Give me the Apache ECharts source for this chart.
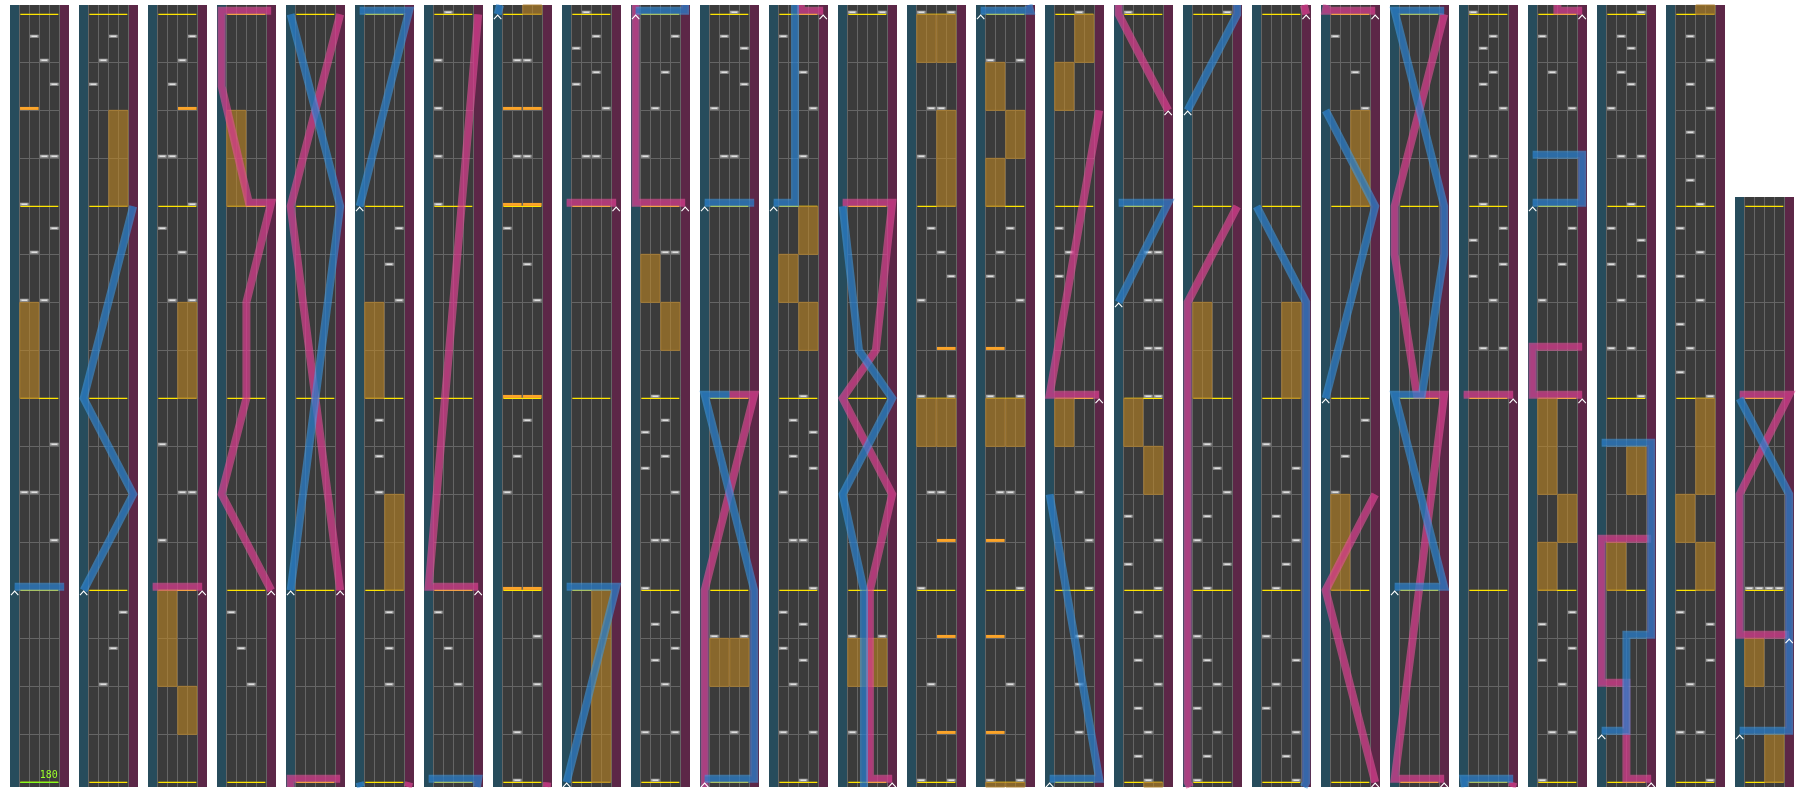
<!DOCTYPE html>
<html><head><meta charset="utf-8">
<script src="https://cdn.jsdelivr.net/npm/echarts@6/dist/echarts.min.js"></script>
<style>html,body{margin:0;padding:0;background:#ffffff;}#c{width:1804px;height:792px;}</style>
</head><body><div id="c"></div>
<script>
// ---------------- DATA (global beats, lanes 0..3, fx pair 0 = lanes 0-1, 1 = lanes 2-3) ----------------
const BEATS_PER_COLUMN = 16;
const TOTAL_BEATS = 412;
const bpmMarks = [[0, '180']];

const btChips = [
  [5,3],[6,0],[6,1],[7,3],[10,0],[10,2],[11,1],[11.5,3],[12,0],[13,2],[13,3],[14.5,3],[15,2],[15.5,1],
  [18,1],[18.75,2],[19.5,3],[30.5,0],[31,1],[31.5,2],
  [37,0],[38,2],[38,3],[39,0],[42,1],[42,3],[43,2],[43.5,0],[44,3],[45,0],[45,1],[46.5,1],[47,2],[47.5,3],
  [50,2],[50.75,1],[51.5,0],
  [82,2],[82.75,2],[83.5,2],[86,1],[86.75,1],[87.5,1],[90,3],[90.75,2],[91.5,3],
  [98,2],[98.75,1],[99.5,0],[108,0],[109,0],[110,0],[111,0],[112,1],
  [113,1],[114,3],[115,3],[118,0],[118.75,1],[119.5,2],[122,3],[122.75,2],[123.5,0],[125,1],[125,2],[127,1],[127,2],
  [141,1],[141,2],[142,3],[142.5,0],[142.75,2],[143.25,0],[143.5,2],[144,1],
  [145,0],[145,3],[146,2],[146.5,1],[146.75,3],[147.25,1],[147.5,3],[148,0],[149,1],[149,2],[150,3],[150.5,0],[150.75,2],[151.25,0],[151.5,2],[152,1],[155,2],[155,3],[157,0],[158,1],[158.75,2],[159.5,3],
  [161,2],[163,0],[163,3],[173,1],[173,2],[174,0],[174.5,3],[174.75,1],[175.25,3],[175.5,1],[176,2],
  [177,0],[177,3],[178,1],[178.5,2],[178.75,0],[179.25,2],[179.5,0],[180,3],[181,1],[181,2],[182,0],[182.5,3],[182.75,1],[183.25,3],[183.5,1],[184,2],[189,2],[190,3],[190.75,2],[191.5,0],
  [193,0],[195,0],[195,3],[208,0],[208,3],
  [210,1],[212,0],[214,1],[214,2],[216,0],[216,3],[218,0],[218.5,3],[219,2],[219.5,1],[221,0],[222,1],[222,2],[224,0],[224,3],
  [226,2],[228,3],[230,1],[230,2],[232,0],[232,3],[234,3],[234.5,0],[235,1],[235.5,2],[239,0],[239,3],
  [241,2],[242,2],[243,2],[244,3],[245,3],[246,2],[250.5,0],[251,1],[251.5,0],[256,2],
  [256.5,1],[257,2],[257.5,1],[258,3],[258.5,1],[259,3],[259.5,1],[260,3],[260.5,0],[261,3],[261.5,0],[264,2],[264,3],[265,2],[265,3],[266,2],[266,3],[267,2],[267,3],[272,0],
  [272.5,1],[273,2],[273.5,0],[274,2],[274.5,1],[275,0],[276,1],[276.5,3],[277,0],[277.5,1],[278,3],[278.5,2],[279,1],[288,3],
  [288.5,2],[289,3],[289.5,0],[290,1],[290.5,3],[291,0],[292,1],[292.5,2],[293,3],[293.5,1],[294,2],[294.5,3],[295,0],
  [310,0],[310.75,1],[311.5,3],[318,3],[318.75,2],[319.5,0],
  [345,1],[345,3],[346,2],[346.5,0],[346.75,3],[347.25,0],[347.5,3],[348,1],[349,0],[349,2],[350,3],[350.5,1],[350.75,2],[351.25,1],[351.5,2],[352,0],
  [353,1],[353,3],[354,2],[354.5,0],[354.75,3],[355.25,0],[355.5,3],[362,0],[362.75,2],[363.5,3],[366,3],[366.75,1],[367.5,0],
  [376,3],[377,0],[377,2],[378,1],[378.5,3],[378.75,0],[379.25,3],[379.5,0],[380,2],[381,1],[381,3],[382,0],[382.5,2],[382.75,1],[383.25,2],[383.5,1],[384,3],
  [385,0],[385,2],[386,1],[386.5,3],[386.75,0],[387.25,3],[387.5,0],[392,3],[392.5,0],[393,1],[393.5,0],[394,2],[394.5,0],[395,2],[395.5,0],[396,2],[396.5,1],[397,2],[397.5,1],[398,3],[398.5,1],[399,3],[399.5,1],
  [404,0],[404,1],[404,2],[404,3]
];

const fxChips = [
  [14,0],[46,1],
  [116,0],[116,1],[120,0],[120,1],[124,0],[124,1],[126,0],[126,1],
  [209,1],[211,1],[213,1],[217,1],
  [225,0],[227,0],[229,0],[233,0]
];

const fxHolds = [
  [8,10,0],[28,30,1],[33,34,1],[34,36,0],[40,42,1],[60,62,0],
  [84,86,1],[88,90,0],[128,132,1],[153,154,1],[154,155,0],
  [162,163,0],[162,163,1],[185,186,1],[186,187,0],[187,188,1],[194,195,0],[194,195,1],
  [215,216,0],[215,216,1],[220,222,1],[223,224,0],[223,224,1],
  [231,232,0],[231,232,1],[236,237,0],[237,238,1],[238,239,0],
  [247,248,0],[254,255,0],[255,256,1],[262,263,1],[263,264,0],[280,282,0],[296,298,1],
  [308,310,0],[316,318,1],[356,357,0],[357,358,1],[358,360,0],[372,373,0],[374,375,1],
  [388,389,1],[389,390,0],[390,392,1],[400,401,1],[402,403,0]
];

// lasers: [beat, position 0 (left) .. 1 (right)]; two points on the same beat = slam
const blueLasers = [
  [[4,0],[4,1]],
  [[20,0],[22,1],[24,0],[28,1]],
  [[68,0],[76,1],[80,0]],
  [[92,0],[96,1],[96,0]],
  [[128,0],[132,1],[132,0]],
  [[160,0],[160,1],[164,1],[168,0],[168,0.5]],
  [[172,0],[172,1]],
  [[188,0],[188,0.43],[196,0.43],[198,0],[200,1],[201,0.33],[204,0]],
  [[240,0],[240,1],[246,0]],
  [[266,0],[268,1],[268,0]],
  [[286,0],[288,1],[298,1],[300,0]],
  [[312,0],[316,1],[318,0]],
  [[324,0],[324,1],[328,0],[328,0.55],[331,1],[332,1],[336,0],[336,1]],
  [[364,0],[364,1],[365,1],[365,0]],
  [[369,0],[369,0.5],[371,0.5],[371,1],[375,1],[375,0]],
  [[401,0],[401,1],[406,1],[408,0]]
];
const pinkLasers = [
  [[36,1],[36,0]],
  [[52,1],[54,0],[56,0.5],[58,0.5],[60,1],[60,0.55],[62.5,0],[64,0],[64,1]],
  [[68,1],[76,0],[80,1]],
  [[100,1],[100,0],[112,1]],
  [[140,1],[140,0]],
  [[156,1],[156,0],[164,0],[168,1],[168,0.5]],
  [[192,1],[192,0.55],[196,0.55],[198,1],[200,0],[201,0.67],[204,1],[204,0]],
  [[248,1],[248,0],[254,1]],
  [[270,1],[272,0],[282,0],[284,1]],
  [[304,1],[308,0],[310,1]],
  [[320,1],[320,0],[328,1],[328,0.45],[331,0],[332,0],[336,1]],
  [[344,1],[344,0]],
  [[360,1],[360,0],[361,0],[361,1]],
  [[368,1],[368,0.5],[370,0.5],[370,0],[373,0],[373,1]],
  [[403,1],[403,0],[406,0],[408,1],[408,0]]
];

// ---------------- LAYOUT (x unit = one lane width) ----------------
const PITCH = 6.9, STRIP_L = 0.933, STRIP_R = 0.967, LANES = 4;
const COL_W = STRIP_L + LANES + STRIP_R;
const POS0 = 0.465, POS1 = 5.417;
const PAD_BOTTOM = 0.097, PAD_TOP = 0.194;

const columns = [];
for (let c = 0; c * BEATS_PER_COLUMN < TOTAL_BEATS; c++) {
  columns.push([c, Math.min(BEATS_PER_COLUMN, TOTAL_BEATS - c * BEATS_PER_COLUMN)]);
}
function placements(t) {
  const out = [];
  for (const [c, n] of columns) {
    const l = t - c * BEATS_PER_COLUMN;
    if (l >= -PAD_BOTTOM && l <= n + PAD_TOP) out.push([c, l]);
  }
  return out;
}
const chipData = [];
btChips.forEach(([t, lane]) => placements(t).forEach(([c, l]) => chipData.push([c, l, lane])));
const fxChipData = [];
fxChips.forEach(([t, p]) => placements(t).forEach(([c, l]) => fxChipData.push([c, l, p])));
const holdData = [];
fxHolds.forEach(([s, e, p]) => {
  for (const [c, n] of columns) {
    const base = c * BEATS_PER_COLUMN;
    const ls = Math.max(s - base, -PAD_BOTTOM), le = Math.min(e - base, n + PAD_TOP);
    if (le > ls) holdData.push([c, ls, le, p]);
  }
});
function laserData(lasers) {
  const d = [];
  lasers.forEach((pts, i) => {
    for (const [c, n] of columns) {
      const base = c * BEATS_PER_COLUMN;
      if (pts[pts.length - 1][0] >= base - PAD_BOTTOM && pts[0][0] <= base + n + PAD_TOP) d.push([c, i]);
    }
  });
  return d;
}
const startData = [];
[...blueLasers, ...pinkLasers].forEach(pts => placements(pts[0][0]).forEach(([c, l]) => startData.push([c, l, pts[0][1]])));

const LANE_BG = '#3b3b3b', GRID = '#656565', YELLOW = '#ffe600';
const chart = echarts.init(document.getElementById('c'), null, {renderer: 'canvas'});

function colRender(params, api) {
  const c = api.value(0), n = api.value(1);
  const X = u => api.coord([c * PITCH + u, 0])[0];
  const Y = b => api.coord([0, b])[1];
  const yb = Y(-PAD_BOTTOM), yt = Y(n + PAD_TOP);
  const ch = [];
  ch.push({type: 'rect', shape: {x: X(0), y: yt, width: X(COL_W) - X(0), height: yb - yt}, style: {fill: LANE_BG}});
  ch.push({type: 'rect', shape: {x: X(0), y: yt, width: X(STRIP_L) - X(0), height: yb - yt}, style: {fill: '#274c5c'}});
  ch.push({type: 'rect', shape: {x: X(STRIP_L + LANES), y: yt, width: X(COL_W) - X(STRIP_L + LANES), height: yb - yt}, style: {fill: '#5c2747'}});
  for (let b = 0; b <= n; b++) {
    if (b % 4 === 0) continue;
    const y = Math.round(Y(b)) + 0.5;
    ch.push({type: 'line', shape: {x1: X(STRIP_L), y1: y, x2: X(STRIP_L + LANES), y2: y}, style: {stroke: GRID, lineWidth: 1}});
  }
  for (let k = 0; k <= LANES; k++) {
    const x = Math.round(X(STRIP_L + k)) + 0.5;
    ch.push({type: 'line', shape: {x1: x, y1: yt, x2: x, y2: yb}, style: {stroke: GRID, lineWidth: 1}});
  }
  for (let b = 0; b <= n; b += 4) {
    const y = Y(b);
    ch.push({type: 'line', shape: {x1: X(STRIP_L) + 1, y1: y, x2: X(STRIP_L + LANES) - 1, y2: y}, style: {stroke: YELLOW, lineWidth: 1.3}});
  }
  return {type: 'group', children: ch};
}

function holdRender(params, api) {
  const c = api.value(0), s = api.value(1), e = api.value(2), p = api.value(3);
  const [x0, y0] = api.coord([c * PITCH + STRIP_L + 2 * p, s]);
  const [x1, y1] = api.coord([c * PITCH + STRIP_L + 2 * p + 2, e]);
  return {type: 'rect', shape: {x: x0 + 0.5, y: y1, width: x1 - x0 - 1, height: y0 - y1},
    style: {fill: 'rgba(196,138,32,0.56)', stroke: 'rgba(170,125,50,0.9)', lineWidth: 1}};
}
function chipRender(params, api) {
  const c = api.value(0), l = api.value(1), lane = api.value(2);
  const [x0, y] = api.coord([c * PITCH + STRIP_L + lane, l]);
  const [x1] = api.coord([c * PITCH + STRIP_L + lane + 1, l]);
  return {type: 'group', children: [
    {type: 'rect', shape: {x: x0 + 0.7, y: y - 3.6, width: x1 - x0 - 1.4, height: 3}, style: {fill: '#a4a4a4'}},
    {type: 'line', shape: {x1: x0 + 2.2, y1: y - 2.1, x2: x1 - 2.2, y2: y - 2.1}, style: {stroke: '#f6f6f6', lineWidth: 1}}
  ]};
}
function fxChipRender(params, api) {
  const c = api.value(0), l = api.value(1), p = api.value(2);
  const [x0, y] = api.coord([c * PITCH + STRIP_L + 2 * p, l]);
  const [x1] = api.coord([c * PITCH + STRIP_L + 2 * p + 2, l]);
  return {type: 'rect', shape: {x: x0 + 0.7, y: y - 3.4, width: x1 - x0 - 1.4, height: 3}, style: {fill: '#fba42a'}};
}
function laserRender(lasers, outer, inner) {
  return function (params, api) {
    const c = api.value(0), i = api.value(1);
    const n = columns[c][1], base = c * BEATS_PER_COLUMN;
    const lo = base - PAD_BOTTOM, hi = base + n + PAD_TOP;
    const pts = lasers[i];
    const out = [];
    const push = (t, p, slam) => {
      const xy = api.coord([c * PITCH + POS0 + p * (POS1 - POS0), t - base]);
      if (slam) xy[1] -= 3.5;
      const last = out[out.length - 1];
      if (!last || Math.abs(last[0] - xy[0]) > 0.01 || Math.abs(last[1] - xy[1]) > 0.01) out.push(xy);
    };
    const isSlam = k => (k > 0 && pts[k - 1][0] === pts[k][0]) || (k < pts.length - 1 && pts[k + 1][0] === pts[k][0]);
    for (let k = 0; k < pts.length - 1; k++) {
      const [ta, pa] = pts[k], [tb, pb] = pts[k + 1];
      if (tb < lo || ta > hi) continue;
      if (ta === tb) { push(ta, pa, true); push(tb, pb, true); continue; }
      let t0 = ta, p0 = pa, s0 = isSlam(k), t1 = tb, p1 = pb, s1 = isSlam(k + 1);
      if (t0 < lo) { p0 = pa + (pb - pa) * (lo - ta) / (tb - ta); t0 = lo; s0 = false; }
      if (t1 > hi) { p1 = pa + (pb - pa) * (hi - ta) / (tb - ta); t1 = hi; s1 = false; }
      push(t0, p0, s0); push(t1, p1, s1);
    }
    if (out.length < 2) return {type: 'group', children: []};
    return {type: 'group', children: [
      {type: 'polyline', shape: {points: out}, style: {stroke: outer, lineWidth: 8, fill: null, lineJoin: 'miter', lineCap: 'butt'}},
      {type: 'polyline', shape: {points: out}, style: {stroke: inner, lineWidth: 4.5, fill: null, lineJoin: 'miter', lineCap: 'butt'}}
    ]};
  };
}
function startRender(params, api) {
  const c = api.value(0), l = api.value(1), p = api.value(2);
  const [x, y] = api.coord([c * PITCH + POS0 + p * (POS1 - POS0), l]);
  return {type: 'polyline', shape: {points: [[x - 3.7, y + 4.7], [x, y + 0.8], [x + 3.7, y + 4.7]]}, style: {stroke: '#ffffff', lineWidth: 1.1, fill: null}};
}
function bpmRender(params, api) {
  const idx = params.dataIndex;
  const t = api.value(0);
  const out = [];
  placements(t).forEach(([c, l]) => {
    const [x0, y] = api.coord([c * PITCH + STRIP_L, l]);
    const [x1] = api.coord([c * PITCH + STRIP_L + LANES, l]);
    out.push({type: 'line', shape: {x1: x0 + 1, y1: y, x2: x1 - 1, y2: y}, style: {stroke: '#86ff1a', lineWidth: 1.4}});
    out.push({type: 'text', x: x1 - 1.5, y: y - 1.5, style: {text: bpmMarks[idx][1], fill: '#9cff2a', font: '10px "DejaVu Sans Mono"', align: 'right', verticalAlign: 'bottom'}});
  });
  return {type: 'group', children: out};
}

chart.setOption({
  animation: false,
  backgroundColor: '#ffffff',
  grid: {left: 10, right: 0, top: 14.333, bottom: 9.667},
  xAxis: {type: 'value', min: 0, max: 179.4, show: false},
  yAxis: {type: 'value', min: 0, max: 16, show: false},
  series: [
    {type: 'custom', name: 'columns', data: columns, renderItem: colRender, clip: false, z: 1, silent: true},
    {type: 'custom', name: 'fxHolds', data: holdData, renderItem: holdRender, clip: false, z: 2, silent: true},
    {type: 'custom', name: 'btChips', data: chipData, renderItem: chipRender, clip: false, z: 3, silent: true},
    {type: 'custom', name: 'fxChips', data: fxChipData, renderItem: fxChipRender, clip: false, z: 3, silent: true},
    {type: 'custom', name: 'pinkLasers', data: laserData(pinkLasers), renderItem: laserRender(pinkLasers, 'rgba(232,78,155,0.6)', 'rgba(200,40,130,0.35)'), clip: false, z: 4, silent: true},
    {type: 'custom', name: 'blueLasers', data: laserData(blueLasers), renderItem: laserRender(blueLasers, 'rgba(60,150,225,0.6)', 'rgba(20,100,180,0.35)'), clip: false, z: 4, silent: true},
    {type: 'custom', name: 'starts', data: startData, renderItem: startRender, clip: false, z: 5, silent: true},
    {type: 'custom', name: 'bpm', data: bpmMarks.map(m => [m[0]]), renderItem: bpmRender, clip: false, z: 6, silent: true}
  ]
});
</script></body></html>
